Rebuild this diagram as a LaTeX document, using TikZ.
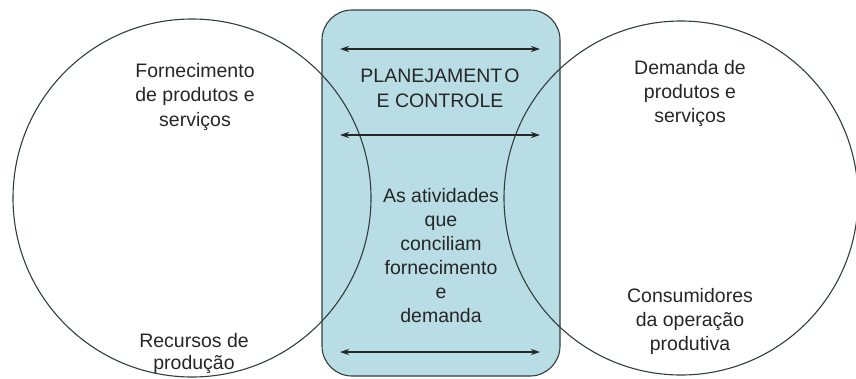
\documentclass[tikz,border=0pt]{standalone}
\usepackage{fontspec}
\setmainfont{Liberation Sans}
\usetikzlibrary{arrows.meta}
\definecolor{boxfill}{RGB}{184,221,228}
\definecolor{edge}{RGB}{50,62,62}
\tikzset{
  lbl/.style={align=center, inner sep=0pt, anchor=base, font=\fontsize{19.5}{24.5}\selectfont, text=black!85},
  dbl/.style={{Stealth[length=9pt,width=6pt]}-{Stealth[length=9pt,width=6pt]}, line width=1.3pt, draw=black!85},
  ring/.style={draw=edge, line width=1.1pt},
}
\begin{document}
\begin{tikzpicture}[x=1pt,y=-1pt]
\useasboundingbox (0,0) rectangle (856,378);
% central rounded box
\path[fill=boxfill, draw=edge, line width=1.1pt, rounded corners=30pt] (322,10) rectangle (560,376);
% circles
\node[ring, circle, minimum size=358pt, inner sep=0pt] (left) at (192,198) {};
\node[ring, circle, minimum size=354pt, inner sep=0pt] (right) at (681,198) {};
% arrows
\coordinate (a1l) at (340,49);  \coordinate (a1r) at (540,49);
\coordinate (a2l) at (340,135); \coordinate (a2r) at (540,135);
\coordinate (a3l) at (340,352); \coordinate (a3r) at (540,352);
\draw[dbl] (a1l) -- (a1r);
\draw[dbl] (a2l) -- (a2r);
\draw[dbl] (a3l) -- (a3r);
% texts (base anchor = baseline of the last line)
\node[lbl] (pc) at (440,107) {PLANEJAMENT\kern2pt O\\E CONTROLE};
\node[lbl, font=\fontsize{19.5}{24}\selectfont] (atv) at (441,322) {As atividades\\que\\conciliam\\fornecimento\\e\\demanda};
\node[lbl] (forn) at (195,126) {Fornecimento\\de produtos e\\serviços};
\node[lbl, font=\fontsize{19.5}{22}\selectfont] (rec) at (194,369) {Recursos de\\produção};
\node[lbl, font=\fontsize{19.5}{24}\selectfont] (dem) at (690,122) {Demanda de\\produtos e\\serviços};
\node[lbl, font=\fontsize{19.5}{24}\selectfont] (cons) at (690,350) {Consumidores\\da operação\\produtiva};
\end{tikzpicture}
\end{document}
